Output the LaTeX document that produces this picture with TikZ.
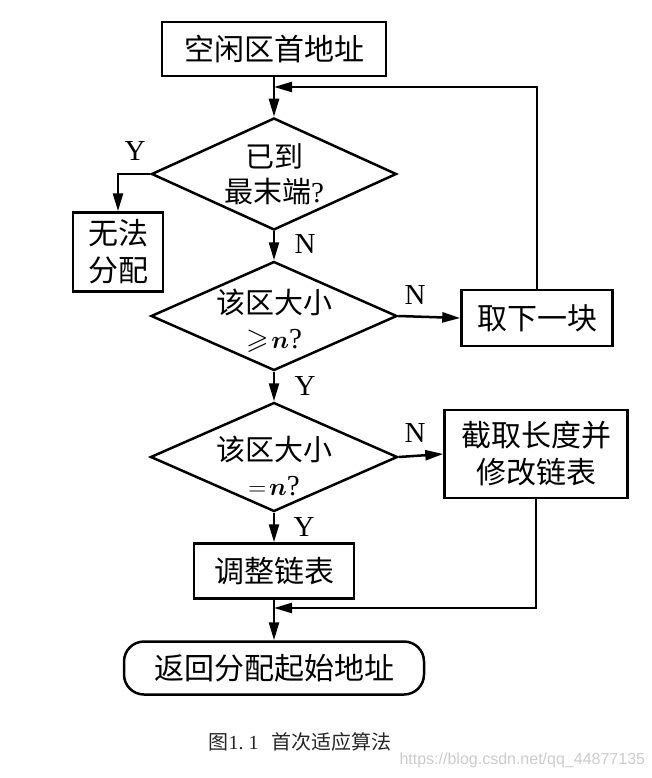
\documentclass[tikz,border=0pt]{standalone}
\usepackage{amsmath,amssymb}
\usepackage{fontspec}
\newfontfamily\cjk{Noto Sans CJK SC}
\newfontfamily\wmfont{Liberation Sans}
\newfontfamily\lserif{Liberation Serif}
\usetikzlibrary{shapes.geometric,arrows.meta}
\begin{document}
\begin{tikzpicture}[x=1pt,y=-1pt,
  box/.style={draw, line width=2.5pt, inner sep=0pt, align=center,
    font={\cjk\fontsize{30}{37}\selectfont}},
  dia/.style={draw, diamond, line width=2.5pt, inner sep=0pt},
  diatext/.style={align=center, font={\cjk\fontsize{29}{35}\selectfont}},
  conn/.style={line width=2.5pt},
  arr/.style={conn, -{Triangle[length=18pt,width=10pt]}},
  lab/.style={font={\lserif\fontsize{29}{30}\selectfont}}]
\useasboundingbox[fill=white] (0,0) rectangle (652,778);

% nodes
\node[box, minimum width=224pt, minimum height=54pt] (start) at (274,49) {空闲区首地址};
\node[dia, minimum width=245pt, minimum height=112pt] (d1) at (274,174) {};
\node[diatext] (d1t) at (274,174) {已到\\最末端{\lserif ?}};
\node[box, minimum width=90pt, minimum height=79pt] (fail) at (118,252) {无法\\分配};
\node[dia, minimum width=246pt, minimum height=109pt] (d2) at (274,316) {};
\node[diatext] (d2t) at (274,321) {该区大小\\{\lserif$\geqslant\!\boldsymbol{n}$?}};
\node[box, minimum width=151pt, minimum height=56pt] (next) at (537,318) {取下一块};
\node[dia, minimum width=247pt, minimum height=109pt] (d3) at (274,457) {};
\node[diatext] (d3t) at (274,466) {该区大小\\{\lserif$=\!\boldsymbol{n}$?}};
\node[box, minimum width=183pt, minimum height=88pt] (cut) at (536,454) {截取长度并\\修改链表};
\node[box, minimum width=160pt, minimum height=55pt] (adj) at (274,571) {调整链表};
\node[box, rounded corners=20pt, minimum width=300pt, minimum height=53pt] (ret) at (274,668) {返回分配起始地址};

\coordinate (j1) at (274,87);
\coordinate (j2) at (274,608);
\coordinate (bend) at (118,174);

% connectors
\draw[arr] (start.south) -- (d1.north);
\draw[arr] (d1.west) -- (bend) -- (fail.north);
\draw[arr] (d1.south) -- (d2.north);
\draw[arr] (d2.east) -- (next.west);
\draw[arr] (next.north) |- (j1);
\draw[arr] (d2.south) -- (d3.north);
\draw[arr] (d3.east) -- (cut.west);
\draw[arr] (d3.south) -- (adj.north);
\draw[arr] (cut.south) |- (j2);
\draw[arr] (adj.south) -- (ret.north);

% labels
\node[lab] (ly1) at (135,151) {Y};
\node[lab] (ln1) at (305,244) {N};
\node[lab] (ln2) at (415,295) {N};
\node[lab] (ly2) at (305,386) {Y};
\node[lab] (ln3) at (415,433) {N};
\node[lab] (ly3) at (304,527) {Y};

% caption and watermark
\node[anchor=west, font={\cjk\fontsize{20}{22}\selectfont}, text=black!85] (cap) at (205,742) {图{\lserif 1.\ 1}\ \ \ 首次适应算法};
\node[anchor=west, font={\wmfont\fontsize{16}{18}\selectfont}, text=black!20] (wm) at (396,760) {https://blog.csdn.net/qq\_44877135};
\end{tikzpicture}
\end{document}
